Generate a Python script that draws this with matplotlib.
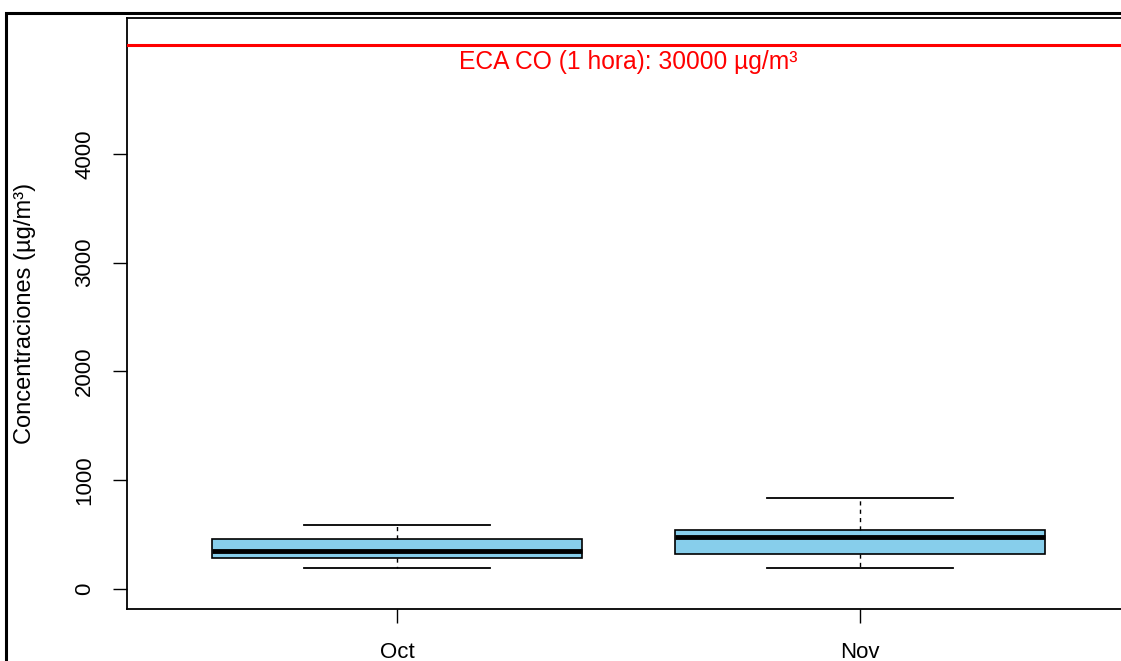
"""
plot.py
Boxplot mensual de concentraciones de CO con la línea del ECA (estilo gráfico base de R).
"""

import matplotlib
matplotlib.use("Agg")
import matplotlib.pyplot as plt
from matplotlib.patches import Rectangle

plt.rcParams["font.family"] = ["Liberation Sans", "DejaVu Sans"]

# --- datos ---
months = ["Oct", "Nov"]
whisker_low = [196, 190]
q1 = [288, 319]
median = [352, 478]
q3 = [460, 542]
whisker_high = [588, 839]

eca_value = 5000
eca_label = "ECA CO (1 hora): 30000 µg/m³"
y_ticks = [0, 1000, 2000, 3000, 4000]

W, H = 1121, 661
fig = plt.figure(figsize=(W / 100, H / 100), dpi=100)

# el área del gráfico se sale por la derecha (recorte del original)
left, right, top, bottom = 127, 1130, 18, 609
ax = fig.add_axes([left / W, 1 - bottom / H, (right - left) / W, (bottom - top) / H])

stats = []
for i, m in enumerate(months):
    stats.append({
        "label": m,
        "whislo": whisker_low[i],
        "q1": q1[i],
        "med": median[i],
        "q3": q3[i],
        "whishi": whisker_high[i],
        "fliers": [],
    })

ax.bxp(
    stats,
    positions=[1, 2],
    widths=0.8,
    capwidths=0.4,
    patch_artist=True,
    boxprops=dict(facecolor="#87CEEB", edgecolor="black", linewidth=1.2),
    medianprops=dict(color="black", linewidth=3.5, solid_capstyle="butt"),
    whiskerprops=dict(color="black", linewidth=1, linestyle=(0, (3, 3))),
    capprops=dict(color="black", linewidth=1.3),
    showfliers=False,
    zorder=2,
)

# línea del ECA
ax.axhline(eca_value, color="red", linewidth=2.2, zorder=3)
ax.annotate(eca_label, xy=(0.5, eca_value), xycoords=ax.get_yaxis_transform(),
            xytext=(0, -3.5), textcoords="offset points",
            ha="center", va="top", color="red", fontsize=17.7)

ax.set_xlim(0.417, 2.583)
ax.set_ylim(-184, 5248)
ax.set_yticks(y_ticks)
ax.set_yticklabels([str(v) for v in y_ticks], rotation=90, va="center")
ax.set_xticks([1, 2])
ax.set_xticklabels(months)
ax.tick_params(axis="both", labelsize=16, length=10, width=1, color="black")
ax.tick_params(axis="y", pad=13)
ax.tick_params(axis="x", pad=14)

ax.set_ylabel("Concentraciones (µg/m³)", fontsize=17, va="center")
ax.yaxis.set_label_coords(-0.1017, 0.5)

for side in ["left", "bottom", "top", "right"]:
    ax.spines[side].set_linewidth(1.3)
    ax.spines[side].set_color("black")

# marco exterior del dispositivo
frame = Rectangle((6 / W, -0.1), 1.2, 1.1 - 13 / H, transform=fig.transFigure,
                  fill=False, edgecolor="black", linewidth=2.2, clip_on=False)
fig.patches.append(frame)

fig.savefig("out.png", dpi=100)
plt.close(fig)
